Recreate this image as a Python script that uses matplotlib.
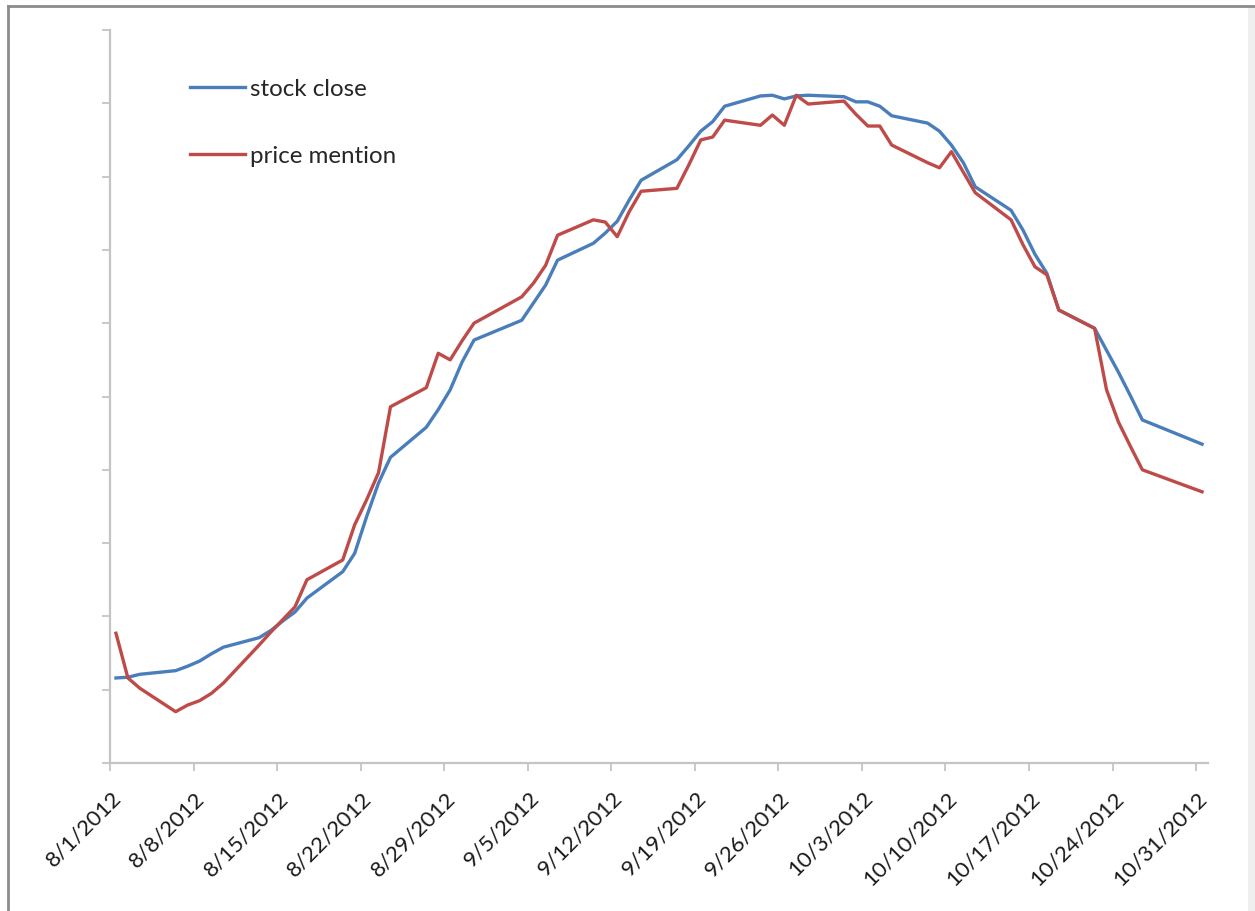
import matplotlib
matplotlib.use('Agg')
import matplotlib.pyplot as plt
import pandas as pd
from matplotlib.lines import Line2D
from matplotlib.patches import Rectangle

# trading days, Aug 1 - Oct 31 2012 (markets shut 10/29-10/30)
days = ['2012-08-01', '2012-08-02', '2012-08-03', '2012-08-06', '2012-08-07',
        '2012-08-08', '2012-08-09', '2012-08-10', '2012-08-13', '2012-08-14',
        '2012-08-15', '2012-08-16', '2012-08-17', '2012-08-20', '2012-08-21',
        '2012-08-22', '2012-08-23', '2012-08-24', '2012-08-27', '2012-08-28',
        '2012-08-29', '2012-08-30', '2012-08-31',
        '2012-09-04', '2012-09-05', '2012-09-06', '2012-09-07', '2012-09-10',
        '2012-09-11', '2012-09-12', '2012-09-13', '2012-09-14', '2012-09-17',
        '2012-09-18', '2012-09-19', '2012-09-20', '2012-09-21', '2012-09-24',
        '2012-09-25', '2012-09-26', '2012-09-27', '2012-09-28',
        '2012-10-01', '2012-10-02', '2012-10-03', '2012-10-04', '2012-10-05',
        '2012-10-08', '2012-10-09', '2012-10-10', '2012-10-11', '2012-10-12',
        '2012-10-15', '2012-10-16', '2012-10-17', '2012-10-18', '2012-10-19',
        '2012-10-22', '2012-10-23', '2012-10-24', '2012-10-25', '2012-10-26',
        '2012-10-31']

stock_close = [11.6, 11.7, 12.1, 12.6, 13.2, 13.9, 14.9, 15.8, 17.1, 18.1,
               19.4, 20.6, 22.5, 26.1, 28.6, 33.6, 38.2, 41.7, 45.8, 48.2,
               50.9, 54.7, 57.7,
               60.4, 62.8, 65.2, 68.6, 70.9, 72.3, 73.9, 76.8, 79.5, 82.3,
               84.2, 86.2, 87.5, 89.6, 91.0, 91.1, 90.6, 91.0, 91.1,
               90.9, 90.2, 90.2, 89.6, 88.3, 87.3, 86.2, 84.3, 81.9, 78.6,
               75.4, 72.7, 69.4, 66.8, 61.8, 59.3, 56.3, 53.3, 50.1, 46.8,
               43.5]

price_mention = [17.7, 11.6, 10.2, 7.0, 7.9, 8.5, 9.5, 10.9, 16.1, 17.9,
                 19.6, 21.3, 25.0, 27.7, 32.5, 35.9, 39.6, 48.6, 51.2, 55.9,
                 55.0, 57.6, 60.0,
                 63.6, 65.5, 67.9, 72.0, 74.1, 73.8, 71.8, 75.2, 78.0, 78.4,
                 81.6, 85.0, 85.4, 87.7, 87.0, 88.4, 87.0, 91.1, 89.9,
                 90.3, 88.5, 86.9, 86.9, 84.3, 81.9, 81.2, 83.4, 80.6, 77.8,
                 74.1, 70.7, 67.7, 66.6, 61.8, 59.3, 50.9, 46.5, 43.2, 40.0,
                 37.0]

# points sit in the middle of each day on a date axis
x = pd.to_datetime(days) + pd.Timedelta(hours=12)
ticks = pd.date_range('2012-08-01', '2012-10-31', freq='7D')
tick_labels = ['{0.month}/{0.day}/{0.year}'.format(t) for t in ticks]

fig = plt.figure(figsize=(12.55, 9.11), dpi=100)
ax = fig.add_axes([110 / 1255, 1 - 763 / 911, 1098 / 1255, 733 / 911])

axis_grey = '#c4c4c4'
ax.plot(x, stock_close, color='#4a7ebb', lw=2.4, label='stock close',
        solid_joinstyle='round', zorder=3)
ax.plot(x, price_mention, color='#be4b48', lw=2.4, label='price mention',
        solid_joinstyle='round', zorder=3)

ax.set_xlim(pd.Timestamp('2012-08-01'), pd.Timestamp('2012-11-01'))
ax.set_ylim(0, 100)
ax.set_yticks(range(0, 101, 10))
ax.set_yticklabels([])
ax.set_xticks(ticks)
ax.set_xticklabels([])

for s in ['top', 'right']:
    ax.spines[s].set_visible(False)
for s in ['left', 'bottom']:
    ax.spines[s].set_color(axis_grey)
    ax.spines[s].set_linewidth(1.6)
ax.tick_params(axis='both', direction='out', length=6, width=1.3, color=axis_grey)

# slanted date labels, ending just right of each tick
for t, lab in zip(ticks, tick_labels):
    ax.annotate(lab, xy=(t, 0), xycoords=('data', 'axes fraction'),
                xytext=(8, -32), textcoords='offset pixels',
                rotation=45, rotation_mode='anchor', ha='right', va='center',
                fontsize=16, family='Lato', color='#1a1a1a')

ax.legend(loc='upper left', bbox_to_anchor=(70 / 1098, 1 - 39 / 733), frameon=False,
          prop={'family': 'Lato', 'size': 17.4}, handlelength=2.3, handletextpad=0.2,
          labelspacing=1.9, borderaxespad=0, labelcolor='#262626')

# outer frame of the chart area
fig.add_artist(Line2D([8 / 1255, 8 / 1255], [0, 1 - 6 / 911], transform=fig.transFigure,
                      color='#8c8c8c', lw=2))
fig.add_artist(Line2D([8 / 1255, 1], [1 - 6 / 911, 1 - 6 / 911], transform=fig.transFigure,
                      color='#8c8c8c', lw=2))
fig.add_artist(Rectangle((1248 / 1255, 0), 7 / 1255, 1 - 7 / 911, transform=fig.transFigure,
                         color='#efefef', lw=0))

fig.savefig('out.png', dpi=100)
